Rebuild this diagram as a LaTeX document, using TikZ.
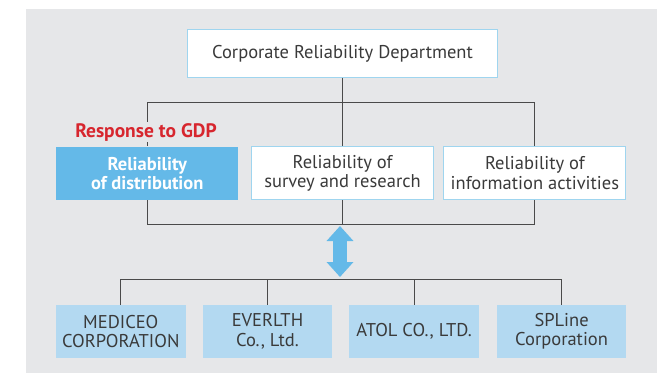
\documentclass[tikz,border=0pt]{standalone}
\usepackage{fontspec}
\setmainfont{PT Sans}
\usetikzlibrary{arrows.meta}

\definecolor{bggray}{HTML}{E6E7E9}
\definecolor{deptblue}{HTML}{64B9E8}
\definecolor{compblue}{HTML}{B3D9F1}
\definecolor{edgeblue}{HTML}{9FD5EF}
\definecolor{gdpred}{HTML}{D7262E}
\definecolor{txtgray}{HTML}{3A3A3A}
\definecolor{linegray}{HTML}{4A4A4A}

\begin{document}
\begin{tikzpicture}[x=1pt, y=-1pt,
    every node/.style={font=\fontsize{18.5}{19.5}\selectfont, text=txtgray, align=center, inner sep=0pt},
    deptbox/.style={draw=edgeblue, fill=white, line width=1pt, minimum width=182pt, minimum height=53pt},
    compbox/.style={fill=compblue, minimum width=129.5pt, minimum height=52.7pt},
    link/.style={draw=linegray, line width=0.9pt}]

    \useasboundingbox (0,0) rectangle (657,373);
    \fill[bggray] (26,9) rectangle (657,373);

    % Departments
    \node[deptbox, minimum width=310pt, minimum height=47.5pt] (crd) at (342.5,53.5) {Corporate Reliability Department};
    \node[deptbox, draw=none, fill=deptblue, text=white, font=\fontsize{18.5}{19.5}\selectfont\bfseries] (dist) at (147.3,173.3) {Reliability\\of distribution};
    \node[deptbox] (surv) at (342.6,173.3) {Reliability of\\survey and research};
    \node[deptbox] (info) at (534.9,173.3) {Reliability of\\information activities};

    % Group companies
    \foreach \cname/\x/\txt in {medi/120.8/{MEDICEO\\CORPORATION}, ever/267.5/{EVERLTH\\Co., Ltd.}, atol/414.1/{ATOL CO., LTD.}, spl/561.6/{SPLine\\Corporation}}
        \node[compbox] (\cname) at (\x,331.3) {\txt};

    \coordinate (upbar) at (340,102.3);
    \coordinate (lowbar) at (340,224.7);
    \coordinate (combar) at (340,279.3);

    % Lines
    \draw[link] (crd.south) -- (crd.south |- upbar);
    \draw[link] (dist.north |- upbar) -- (info.north |- upbar);
    \foreach \d in {dist,surv,info}
        \draw[link] (\d.north |- upbar) -- (\d.north);
    \draw[link] (dist.south) -- (dist.south |- lowbar) -- (info.south |- lowbar) -- (info.south);
    \draw[link] (surv.south) -- (surv.south |- lowbar);
    \draw[link] (medi.north |- combar) -- (spl.north |- combar);
    \foreach \c in {medi,ever,atol,spl}
        \draw[link] (\c.north |- combar) -- (\c.north);

    \draw[deptblue, line width=14pt, {Triangle[length=15pt,width=26pt]}-{Triangle[length=15pt,width=26pt]}] ([yshift=-1.3pt]lowbar) -- ([yshift=2.3pt]combar);

    \node[fill=bggray, inner sep=1.5pt, text=gdpred, font=\fontsize{19.5}{20}\selectfont\bfseries] (gdp) at (146,132) {Response to GDP};

\end{tikzpicture}
\end{document}
